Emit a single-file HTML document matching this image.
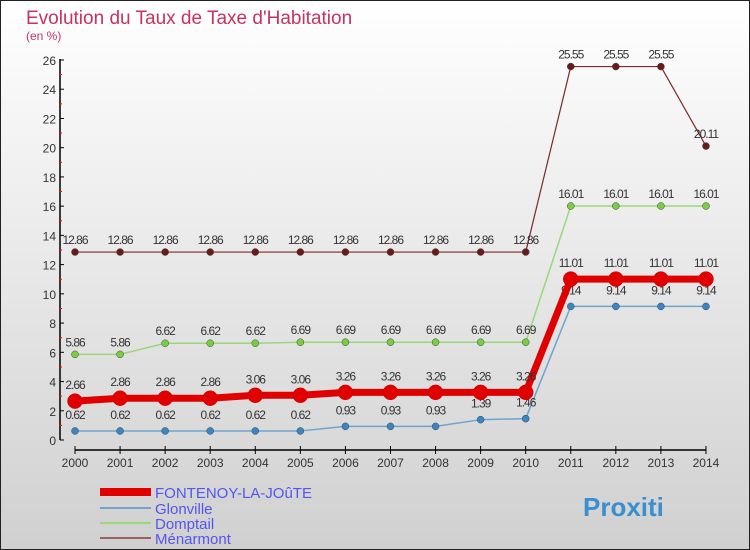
<!DOCTYPE html>
<html><head><meta charset="utf-8"><style>
body{margin:0}
#c{width:750px;height:550px;position:relative;box-sizing:border-box;border:1px solid #222;background:linear-gradient(#fff,#d0d0d0);font-family:"Liberation Sans",sans-serif;overflow:hidden}
</style></head><body>
<div id="c">
<svg id="s" width="750" height="550" style="position:absolute;left:-1px;top:-1px">
<text x="26" y="24" font-size="19" fill="#c8325f">Evolution du Taux de Taxe d'Habitation</text>
<text x="26" y="40" font-size="12" fill="#c8325f">(en %)</text>
</svg>
</div>
<script>
const years=[2000,2001,2002,2003,2004,2005,2006,2007,2008,2009,2010,2011,2012,2013,2014];
const yTicks=[0,2,4,6,8,10,12,14,16,18,20,22,24,26];
const fontenoy=[2.66,2.86,2.86,2.86,3.06,3.06,3.26,3.26,3.26,3.26,3.26,11.01,11.01,11.01,11.01];
const glonville=[0.62,0.62,0.62,0.62,0.62,0.62,0.93,0.93,0.93,1.39,1.46,9.14,9.14,9.14,9.14];
const domptail=[5.86,5.86,6.62,6.62,6.62,6.69,6.69,6.69,6.69,6.69,6.69,16.01,16.01,16.01,16.01];
const menarmont=[12.86,12.86,12.86,12.86,12.86,12.86,12.86,12.86,12.86,12.86,12.86,25.55,25.55,25.55,20.11];
const names=["FONTENOY-LA-JOûTE","Glonville","Domptail","Ménarmont"];
const NS="http://www.w3.org/2000/svg";
const s=document.getElementById('s');
const X=i=>75+i*45.07;
const Y=v=>440-v*(380/26);
function el(t,a,p){const e=document.createElementNS(NS,t);for(const k in a)e.setAttribute(k,a[k]);(p||s).appendChild(e);return e;}
let ax=el('line',{x1:60,y1:59,x2:60,y2:440,stroke:'#000','stroke-width':1.5});


let xa=el('line',{x1:75,y1:450,x2:706,y2:450,stroke:'#000','stroke-width':1.5});


yTicks.forEach(v=>{
 el('line',{x1:60,y1:Y(v),x2:64,y2:Y(v),stroke:'#000'});
 if(v<26)el('line',{x1:59,y1:Y(v+1),x2:62,y2:Y(v+1),stroke:'#f00'});
 const t=el('text',{x:56,y:Y(v)+5,'font-size':12,'text-anchor':'end',fill:'#333'});t.textContent=v;
 
 
});
years.forEach((y,i)=>{
 el('line',{x1:X(i),y1:446,x2:X(i),y2:454,stroke:'#000'});
 const t=el('text',{x:X(i),y:467,'font-size':12,'text-anchor':'middle',fill:'#333'});t.textContent=y;
 
 
});
const series=[
 {d:menarmont,c:'#7a2a2a',f:'#6b1a1a',w:1.2,r:3.5,off:-8},
 {d:domptail,c:'#9ad77a',f:'#7acc40',w:1.5,r:3.5,off:-8},
 {d:glonville,c:'#6fa3cf',f:'#3a85c5',w:1.5,r:3.5,off:-12},
 {d:fontenoy,c:'#e00000',f:'#e00000',w:7,r:7.5,off:-12}
];
const snames=['menarmont','domptail','glonville','fontenoy'];
series.forEach((sr,k)=>{
 const g=el('g',{});
 
 
 el('polyline',{points:sr.d.map((v,i)=>X(i)+','+Y(v)).join(' '),fill:'none',stroke:sr.c,'stroke-width':sr.w,'stroke-linejoin':'round'},g);
 sr.d.forEach((v,i)=>{
  const c=el('circle',{cx:X(i),cy:Y(v),r:sr.r,fill:sr.f,stroke:k==3?'#c00':'#444','stroke-width':0.5},g);
  
  
  const t=el('text',{x:X(i),y:Y(v)+sr.off,'font-size':12,'text-anchor':'middle',fill:'#333','letter-spacing':'-1'},g);
  t.textContent=String(v);
  
  
 });
});
const lc=['#e00000','#6fa3cf','#9ad77a','#9b6060'],lw=[8,2,2,2],ly=[492,508,523,538];
names.forEach((n,i)=>{
 const g=el('g',{});
 
 
 el('line',{x1:100,y1:ly[i],x2:151,y2:ly[i],stroke:lc[i],'stroke-width':lw[i]},g);
 const t=el('text',{x:155,y:ly[i]+6,'font-size':15,fill:'#5555ee'},g);t.textContent=n;
});
const lg=el('text',{x:583,y:516,'font-size':26,'font-weight':'bold',fill:'#3a8fd0'});
lg.textContent='Proxiti';


</script>
</body></html>
